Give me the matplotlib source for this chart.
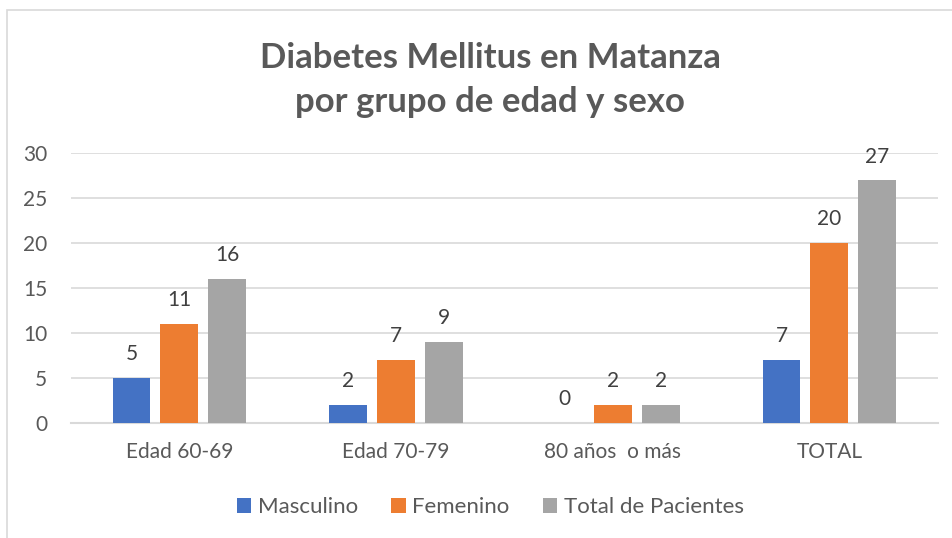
import matplotlib.pyplot as plt
import numpy as np
from matplotlib.patches import Rectangle

categories = ['Edad 60-69', 'Edad 70-79', '80 años  o más', 'TOTAL']
masculino = [5, 2, 0, 7]
femenino = [11, 7, 2, 20]
total_pacientes = [16, 9, 2, 27]
series_names = ['Masculino', 'Femenino', 'Total de Pacientes']
colors = ['#4472C4', '#ED7D31', '#A5A5A5']

plt.rcParams['font.family'] = ['Lato', 'DejaVu Sans']

fig = plt.figure(figsize=(9.52, 5.38), dpi=100)
ax = fig.add_axes([0.0746, 0.2138, 0.9104, 0.5018])

# chart border (runs off the right/bottom edges like the reference)
fig.patches.append(Rectangle((7 / 952, -0.1), 1.2, 1 - 10 / 538 + 0.1,
                             transform=fig.transFigure, fill=False,
                             edgecolor='#D9D9D9', linewidth=1.2))

x = np.arange(len(categories))
width = 0.175
step = 0.221
for i, (vals, name, c) in enumerate(zip([masculino, femenino, total_pacientes], series_names, colors)):
    bars = ax.bar(x + (i - 1) * step, vals, width, color=c, label=name, zorder=3)
    for b, v in zip(bars, vals):
        ax.text(b.get_x() + b.get_width() / 2, v + 1.5, str(v), ha='center', va='bottom',
                fontsize=15, color='#404040')

ax.set_xlim(-0.5, 3.5)
ax.set_ylim(0, 30)
ax.set_yticks(range(0, 31, 5))
ax.yaxis.grid(True, color='#D9D9D9', linewidth=1.2, zorder=0)
ax.set_axisbelow(True)
for s in ['top', 'right', 'left']:
    ax.spines[s].set_visible(False)
ax.spines['bottom'].set_color('#D9D9D9')
ax.spines['bottom'].set_linewidth(1.5)
ax.tick_params(axis='both', length=0, labelsize=15, labelcolor='#595959')
ax.tick_params(axis='y', pad=17)
ax.tick_params(axis='x', pad=14)
ax.set_xticks(x)
ax.set_xticklabels(categories)

fig.text(0.515, 0.893, 'Diabetes Mellitus en Matanza', ha='center', va='center',
         fontsize=25, fontweight='bold', color='#595959')
fig.text(0.515, 0.811, 'por grupo de edad y sexo', ha='center', va='center',
         fontsize=25, fontweight='bold', color='#595959')

fig.legend(loc='center', bbox_to_anchor=(0.515, 0.057), ncol=3, frameon=False,
           fontsize=16, labelcolor='#595959', handlelength=0.65, handleheight=0.65,
           handletextpad=0.3, columnspacing=1.5)

fig.savefig('out.png', dpi=100)
